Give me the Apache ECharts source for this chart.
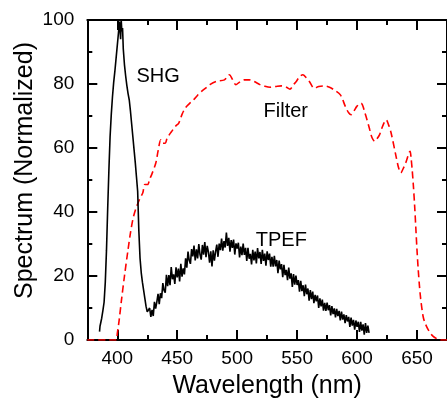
<!DOCTYPE html>
<html>
<head>
<meta charset="utf-8">
<script src="https://cdn.jsdelivr.net/npm/echarts@6/dist/echarts.min.js"></script>
<style>
html,body{margin:0;padding:0;background:#fff;}
#chart{width:447px;height:404px;}
</style>
</head>
<body>
<div id="chart"></div>
<script>
// ---- data ----
const xMajorTicks = [400, 450, 500, 550, 600, 650];
const xMinorTicks = [425, 475, 525, 575, 625];

// SHG peak + TPEF band (one continuous black trace)
const blackX = [385.2,385.6,386,387,388,389,390,391,392,393,394,395,396,397,398,399,400,401,401.8,402.3,402.8,403.3,403.8,404.4,405,406,407,408,409,410,411,412,413,414,415,416,417,418,419,420,421,422,423,424,425,426,
427,428,429,430,431,432,433,434,435,436,437,438,439,440,441,442,443,444,445,446,447,448,449,450,451,452,453,454,455,456,457,458,459,460,461,462,463,464,465,466,467,468,469,470,471,472,473,474,475,476,477,478,479,480,481,482,483,484,485,486,487,488,489,490,491,492,493,494,495,496,497,498,499,500,501,502,503,504,505,506,507,508,509,510,511,512,513,514,515,516,517,518,519,520,521,522,523,524,525,526,527,528,529,530,531,532,533,534,535,536,537,538,539,540,541,542,543,544,545,546,547,548,549,550,551,552,553,554,555,556,557,558,559,560,561,562,563,564,565,566,567,568,569,570,571,572,573,574,575,576,577,578,579,580,581,582,583,584,585,586,587,588,589,590,591,592,593,594,595,596,597,598,599,600,601,602,603,604,605,606,607,608,609,610];
const blackY = [2.6,4.3,4.8,6.8,9.2,11.8,18,28,41,53,63.5,70.5,76,80.5,84,88,92,96,99.5,100,94,100,96.5,97.5,91,86,82.5,79.5,77,75,71.5,67.5,63.5,59.5,55.5,51,46.5,34,25.5,21,18,15.5,13,10.5,8.8,8.2,
10.0,7.2,9.4,7.5,11.9,9.8,11.9,14.4,11.2,14.6,13.1,17.8,15.5,14.8,20.4,16.8,20.3,17.1,22.8,19.0,20.5,17.5,22.7,19.6,22.3,18.3,23.8,19.8,22.4,20.5,25.5,22.6,27.6,24.9,23.8,28.4,26.1,29.5,24.9,28.3,25.5,30.0,26.7,25.1,29.7,26.7,30.6,25.9,29.4,27.5,24.2,27.7,23.0,28.0,24.8,27.6,29.8,26.0,30.1,28.1,31.7,27.9,30.9,28.9,33.6,29.4,31.9,27.6,31.2,28.8,31.4,26.7,30.2,28.6,30.4,25.8,29.2,26.5,30.1,26.6,28.8,24.7,28.8,25.4,26.9,23.6,28.2,24.9,27.6,23.9,28.7,25.5,27.5,23.8,28.2,24.7,27.0,23.2,27.7,25.0,27.0,22.9,26.0,22.9,26.3,23.0,25.0,20.9,24.8,22.1,23.7,19.6,23.5,20.3,21.9,18.7,22.6,19.2,20.8,16.6,20.6,17.3,20.1,17.2,18.7,15.1,18.5,15.3,17.1,13.7,17.3,14.3,16.1,12.3,15.6,12.8,15.1,11.5,14.1,12.1,13.9,10.0,13.0,10.5,12.6,9.2,11.6,9.1,11.7,9.3,10.9,7.7,10.6,8.1,9.9,7.1,9.7,7.5,9.1,6.1,8.9,6.4,8.0,5.3,7.8,5.8,7.2,4.1,7.0,4.5,6.3,3.2,6.1,4.1,5.7,2.5,5.7,2.9,4.9,1.7,5.3,2.2,4.5,2.2];

// Filter transmission (red dashed)
const filterX = [375,399,400,401.5,403.6,406,409,411,413,415,418.6,421.3,423,425.3,427,429,432.2,434,436.3,438,440,441.5,445,448.6,451.3,454,456.7,460,463.5,467,470.3,474,477.2,482.6,489.4,493.5,496,498.9,502,505.8,510,514,519,523,527.5,532,537,541,544,547,549.3,552,554.8,557.5,560.2,564.3,568,572.5,577,580.6,586.1,590.2,593,595.1,597.5,599.8,603.3,606.6,610.6,612.5,614.7,616.5,618.8,621.5,624.3,626.5,628.4,632.5,634.5,636.5,638.5,640.6,644.2,645,646,647,648,649,650,651,652,653,654,655,656,658,660,663,667,670,675];
const filterY = [0,0,2,6,12.8,20,28.3,33.5,37.7,40.5,44,46,48.6,48.6,50.2,52,55.4,59,62.6,61.5,61.5,63,65,66.8,67.8,70.5,72.5,73.8,75,76.5,77.7,78.8,79.8,80.8,81.3,82.9,81.5,79.8,80.6,81.3,81.3,80.8,79.8,79.3,79,79.2,79.4,79,78.4,79.8,80.8,82.3,82.9,82,80.8,78.7,79.2,79.4,79,78.2,76.6,73,71,70.4,71.6,73,74,70.9,65.7,63.2,62.1,62.8,64.2,67,68.8,67,64.7,57.4,54,52.2,53.6,55.4,59,57,53,48,42,35,28,22,17,13,10,7.5,6,4.2,2.8,1.3,0.3,0,0];

// Annotation labels: [left wavelength, centre value, text]
const annoX = [416, 522, 515.5];
const annoY = [82.3, 71.5, 31];
const annoText = ['SHG', 'Filter', 'TPEF'];

// ---- chart ----
const FONT = 'Liberation Sans, Arial, Helvetica, sans-serif';
const zip = (xs, ys) => xs.map((x, i) => [x, ys[i]]);

const baseX = {
  type: 'value', min: 375, max: 675, gridIndex: 0,
  splitLine: { show: false }
};
const majorTick = { show: true, inside: true, length: 10, customValues: xMajorTicks, lineStyle: { color: '#000', width: 2 } };
const minorTickAx = { show: true, inside: true, length: 5, customValues: xMinorTicks, lineStyle: { color: '#000', width: 2 } };

const chart = echarts.init(document.getElementById('chart'), null, { renderer: 'canvas' });
chart.setOption({
  animation: false,
  backgroundColor: '#fff',
  textStyle: { fontFamily: FONT },
  grid: { left: 87.3, right: -7.6, top: 20, bottom: 63, containLabel: false },
  xAxis: [
    Object.assign({}, baseX, {
      position: 'bottom',
      axisLine: { show: true, onZero: false, lineStyle: { color: '#000', width: 2 } },
      axisTick: majorTick,
      axisLabel: { show: true, customValues: xMajorTicks, color: '#000', fontSize: 19, fontFamily: FONT, margin: 9 },
      name: 'Wavelength (nm)', nameLocation: 'middle', nameGap: 34,
      nameTextStyle: { color: '#000', fontSize: 25, fontFamily: FONT }
    }),
    Object.assign({}, baseX, {
      position: 'bottom',
      axisLine: { show: false, onZero: false },
      axisTick: minorTickAx,
      axisLabel: { show: false }
    }),
    Object.assign({}, baseX, {
      position: 'top',
      axisLine: { show: true, onZero: false, lineStyle: { color: '#000', width: 2 } },
      axisTick: majorTick,
      axisLabel: { show: false }
    }),
    Object.assign({}, baseX, {
      position: 'top',
      axisLine: { show: false, onZero: false },
      axisTick: minorTickAx,
      axisLabel: { show: false }
    })
  ],
  yAxis: [
    {
      type: 'value', min: 0, max: 100, interval: 20, position: 'left',
      axisLine: { show: true, onZero: false, lineStyle: { color: '#000', width: 2 } },
      axisTick: { show: true, inside: true, length: 10, lineStyle: { color: '#000', width: 2 } },
      minorTick: { show: true, splitNumber: 2, length: 5, lineStyle: { color: '#000', width: 2 } },
      axisLabel: { color: '#000', fontSize: 19, fontFamily: FONT, margin: 13 },
      splitLine: { show: false }
    },
    {
      type: 'value', min: 0, max: 100, interval: 20, position: 'right',
      axisLine: { show: true, onZero: false, lineStyle: { color: '#000', width: 2 } },
      axisTick: { show: true, inside: true, length: 10, lineStyle: { color: '#000', width: 2 } },
      minorTick: { show: true, splitNumber: 2, length: 5, lineStyle: { color: '#000', width: 2 } },
      axisLabel: { show: false },
      splitLine: { show: false }
    }
  ],
  graphic: [{
    type: 'text', x: 25, y: 170.5, rotation: Math.PI / 2,
    style: { text: 'Spectrum (Normalized)', font: '25px ' + FONT, fill: '#000', align: 'center', verticalAlign: 'middle' }
  }],
  series: [
    {
      type: 'line', name: 'Filter', xAxisIndex: 0, yAxisIndex: 0,
      data: zip(filterX, filterY), showSymbol: false, symbol: 'none', smooth: 0.3,
      lineStyle: { color: '#ff0000', width: 1.6, type: [7, 4] }, z: 2
    },
    {
      type: 'line', name: 'SHG/TPEF', xAxisIndex: 0, yAxisIndex: 0,
      data: zip(blackX, blackY), showSymbol: false, symbol: 'none',
      lineStyle: { color: '#000', width: 1.6 }, z: 3
    },
    {
      type: 'scatter', name: 'labels', xAxisIndex: 0, yAxisIndex: 0,
      data: annoX.map((x, i) => [x, annoY[i], annoText[i]]),
      symbolSize: 0, itemStyle: { color: 'rgba(0,0,0,0)', opacity: 1 },
      label: { show: true, position: 'right', distance: 0, formatter: p => p.value[2], color: '#000', opacity: 1, fontSize: 20, fontFamily: FONT },
      z: 4
    }
  ]
});
</script>
</body>
</html>
